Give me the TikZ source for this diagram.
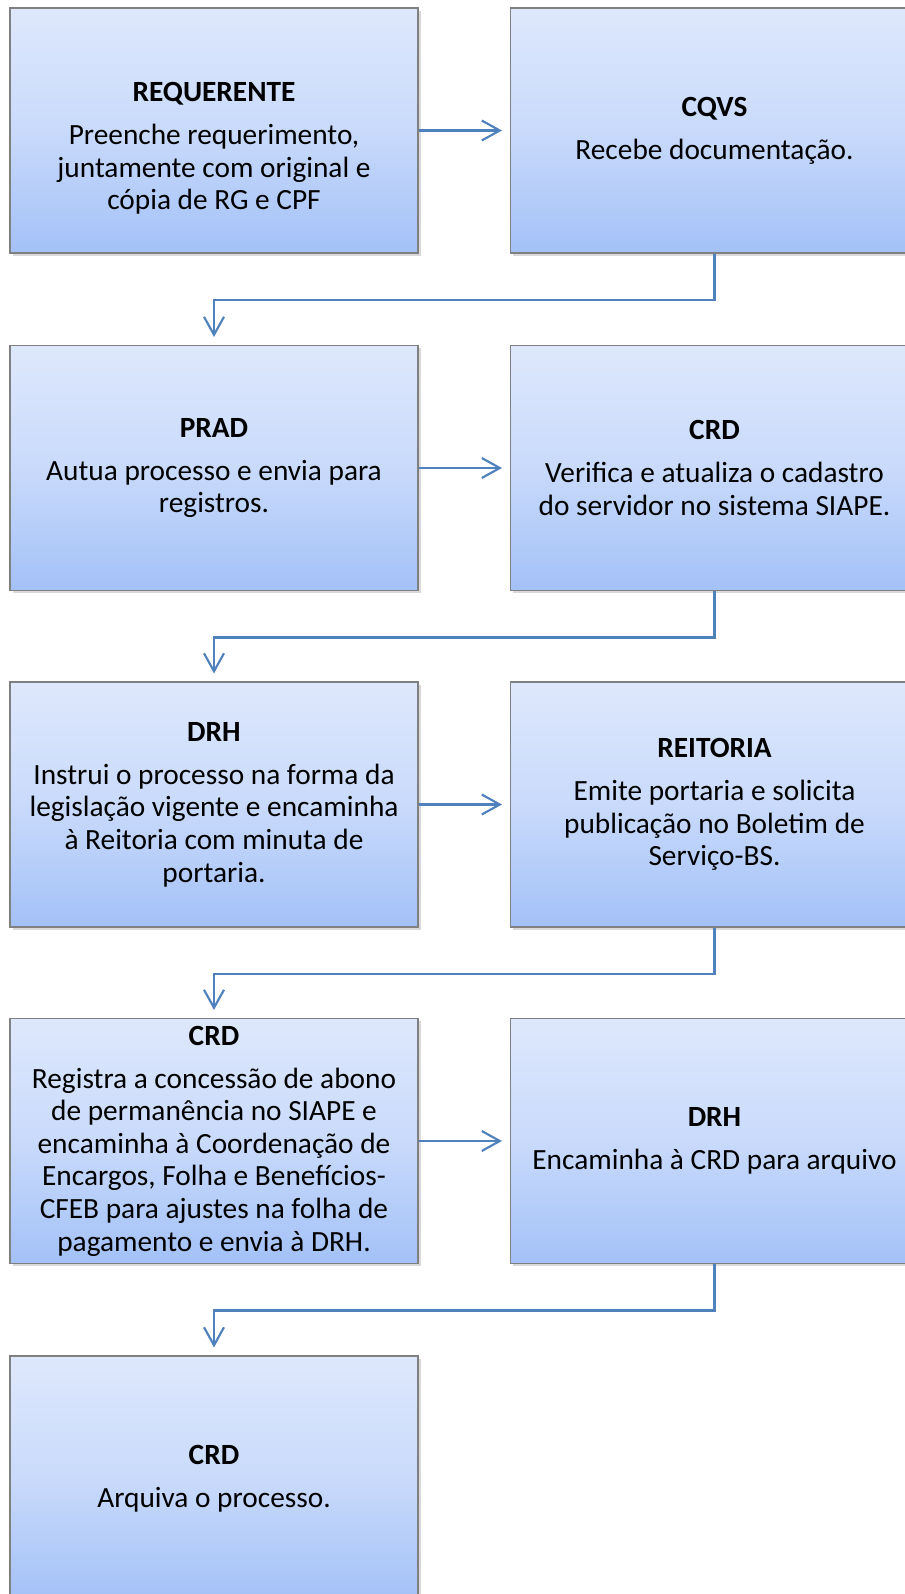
\documentclass[tikz,border=0pt]{standalone}
\usepackage{fontspec}
\setmainfont{Carlito}
\usetikzlibrary{arrows.meta,shadows}
\definecolor{boxtop}{RGB}{222,232,252}
\definecolor{boxmid}{RGB}{201,218,251}
\definecolor{boxbot}{RGB}{163,193,247}
\definecolor{boxline}{RGB}{128,128,128}
\definecolor{flowblue}{RGB}{79,129,189}
\tikzset{
  stage/.style={draw=boxline, line width=0.8pt,
    top color=boxtop, bottom color=boxbot, middle color=boxmid,
    minimum width=306pt, minimum height=183.75pt, inner sep=0pt,
    align=center, font=\fontsize{22}{24.4}\selectfont,
    drop shadow={shadow xshift=2pt, shadow yshift=-2pt, opacity=0.3}},
  flow/.style={draw=flowblue, line width=1.6pt,
    -{Straight Barb[length=13.5pt,width=15pt]}, shorten >=6pt}
}
\newcommand{\stagetext}[2]{\textbf{#1}\\[8pt]#2}
\begin{document}
\begin{tikzpicture}[x=0.75pt,y=-0.75pt]
      \useasboundingbox (0,0) rectangle (905,1594);
      \node[stage] (req) at (214,130.5)
        {\strut\\\stagetext{REQUERENTE}{Preenche requerimento,\\juntamente com original e\\cópia de RG e CPF}};
      \node[stage] (cqvs) at (714.5,130.5)
        {\stagetext{CQVS}{Recebe documentação.}};
      \node[stage] (prad) at (214,468)
        {\stagetext{PRAD}{Autua processo e envia para\\registros.}};
      \node[stage] (crd1) at (714.5,468)
        {\stagetext{CRD}{Verifica e atualiza o cadastro\\do servidor no sistema SIAPE.}};
      \node[stage] (drh1) at (214,804.5)
        {\stagetext{DRH}{Instrui o processo na forma da\\legislação vigente e encaminha\\à Reitoria com minuta de\\portaria.}};
      \node[stage] (reit) at (714.5,804.5)
        {\stagetext{REITORIA}{Emite portaria e solicita\\publicação no Boletim de\\Serviço-BS.}};
      \node[stage] (crd2) at (214,1141)
        {\stagetext{CRD}{Registra a concessão de abono\\de permanência no SIAPE e\\encaminha à Coordenação de\\Encargos, Folha e Benefícios-\\CFEB para ajustes na folha de\\pagamento e envia à DRH.}};
      \node[stage] (drh2) at (714.5,1141)
        {\stagetext{DRH}{Encaminha à CRD para arquivo}};
      \node[stage] (crd3) at (214,1478.5)
        {\stagetext{CRD}{Arquiva o processo.}};
      \begin{scope}[flow]
        \draw (req) to (cqvs);
        \draw (cqvs.south) -- ++(0,46.5) -| (prad.north);
        \draw (prad) to (crd1);
        \draw (crd1.south) -- ++(0,46.5) -| (drh1.north);
        \draw (drh1) to (reit);
        \draw (reit.south) -- ++(0,46.5) -| (crd2.north);
        \draw (crd2) to (drh2);
        \draw (drh2.south) -- ++(0,46.5) -| (crd3.north);
      \end{scope}
    \end{tikzpicture}
\end{document}
